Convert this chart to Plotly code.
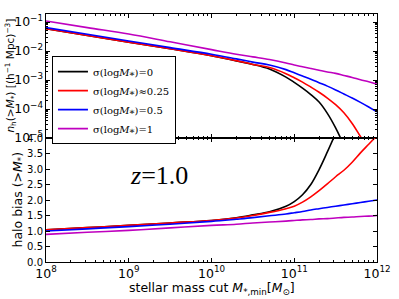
import plotly.graph_objects as go
from plotly.subplots import make_subplots

# log10 of stellar mass cut
logm = [8.0, 8.5, 9.0, 9.5, 10.0, 10.3, 10.5, 10.7, 10.9, 11.0, 11.1, 11.2, 11.3, 11.4, 11.5, 11.6, 11.7, 11.8, 11.9, 12.0]

# log10 number density n_h(>M*) for each scatter
lognh_s0 = [-1.23, -1.46, -1.69, -1.92, -2.16, -2.34, -2.46, -2.62, -2.90, -3.08, -3.28, -3.50, -3.76, -4.15, -4.65, -5.25, None, None, None, None]
lognh_s025 = [-1.23, -1.46, -1.69, -1.92, -2.16, -2.33, -2.46, -2.57, -2.78, -2.92, -3.07, -3.24, -3.42, -3.62, -3.85, -4.13, -4.50, -4.95, -5.4, None]
lognh_s05 = [-1.19, -1.42, -1.65, -1.88, -2.11, -2.27, -2.38, -2.48, -2.64, -2.75, -2.86, -2.97, -3.09, -3.21, -3.34, -3.48, -3.62, -3.77, -3.93, -4.10]
lognh_s1 = [-0.96, -1.19, -1.41, -1.68, -1.95, -2.11, -2.20, -2.29, -2.41, -2.48, -2.54, -2.60, -2.66, -2.72, -2.77, -2.84, -2.91, -2.99, -3.06, -3.14]

# halo bias for each scatter
bias_s0 = [1.04, 1.11, 1.18, 1.26, 1.34, 1.43, 1.52, 1.62, 1.80, 1.95, 2.17, 2.50, 2.98, 3.55, 4.15, None, None, None, None, None]
bias_s025 = [1.04, 1.11, 1.18, 1.26, 1.34, 1.42, 1.50, 1.60, 1.72, 1.80, 1.93, 2.10, 2.30, 2.52, 2.75, 2.96, 3.22, 3.52, 3.80, 4.08]
bias_s05 = [1.00, 1.07, 1.14, 1.22, 1.31, 1.38, 1.43, 1.49, 1.55, 1.59, 1.63, 1.68, 1.72, 1.76, 1.80, 1.84, 1.88, 1.92, 1.96, 2.00]
bias_s1 = [0.89, 0.96, 1.02, 1.10, 1.18, 1.22, 1.26, 1.29, 1.32, 1.34, 1.36, 1.37, 1.39, 1.40, 1.42, 1.44, 1.45, 1.47, 1.48, 1.50]

labels = ["σ(log<i>M</i>⁎)=0", "σ(log<i>M</i>⁎)≈0.25",
          "σ(log<i>M</i>⁎)=0.5", "σ(log<i>M</i>⁎)=1"]
colors = ["#000000", "#ff0000", "#0000ff", "#bf00bf"]

mass = [10 ** v for v in logm]
nh_series = [lognh_s0, lognh_s025, lognh_s05, lognh_s1]
b_series = [bias_s0, bias_s025, bias_s05, bias_s1]

fig = make_subplots(rows=2, cols=1, shared_xaxes=True, vertical_spacing=0)

for lab, col, nh in zip(labels, colors, nh_series):
    fig.add_trace(go.Scatter(x=mass, y=[None if v is None else 10 ** v for v in nh],
                             mode="lines", line=dict(color=col, width=1.6, shape="spline"),
                             name=lab, showlegend=True), row=1, col=1)
for lab, col, b in zip(labels, colors, b_series):
    fig.add_trace(go.Scatter(x=mass, y=b, mode="lines",
                             line=dict(color=col, width=1.6, shape="spline"),
                             name=lab, showlegend=False), row=2, col=1)

axis_common = dict(showline=True, linecolor="black", linewidth=1, mirror="allticks",
                   ticks="inside", tickcolor="black", ticklen=4, showgrid=False, zeroline=False,
                   tickfont=dict(family="DejaVu Sans", size=10, color="black"))

fig.update_xaxes(type="log", range=[8, 12], dtick=1, exponentformat="power",
                 minor=dict(ticks="inside", ticklen=2, dtick="D1", tickcolor="black"),
                 **axis_common)
fig.update_xaxes(showticklabels=False, row=1, col=1)
fig.update_yaxes(type="log", range=[-5, -0.72], dtick=1, exponentformat="power",
                 minor=dict(ticks="inside", ticklen=2, dtick="D1", tickcolor="black"),
                 row=1, col=1, **axis_common)
fig.update_yaxes(range=[0, 4], dtick=0.5, tickformat=".1f", row=2, col=1, **axis_common)

fig.add_annotation(text="<i>n</i><sub>h</sub>(><i>M</i><sub>*</sub>) [(h<sup>−1</sup> Mpc)<sup>−3</sup>]",
                   xref="paper", yref="paper", x=-0.107, y=0.75, textangle=-90,
                   xanchor="center", yanchor="middle",
                   showarrow=False, font=dict(family="DejaVu Sans", size=10.5, color="black"))
fig.add_annotation(text="halo bias (><i>M</i><sub>*</sub>)",
                   xref="paper", yref="paper", x=-0.086, y=0.25, textangle=-90,
                   xanchor="center", yanchor="middle",
                   showarrow=False, font=dict(family="DejaVu Sans", size=12.5, color="black"))
fig.add_annotation(text="stellar mass cut <i>M</i><sub>*,min</sub>[<i>M</i><sub>⊙</sub>]",
                   xref="paper", yref="paper", x=0.5, y=-0.105, xanchor="center", yanchor="middle",
                   showarrow=False, font=dict(family="DejaVu Sans", size=12.5, color="black"))
fig.add_annotation(text="<i>z</i>=1.0", xref="paper", yref="paper", x=0.34, y=0.35,
                   xanchor="center", yanchor="middle",
                   showarrow=False, font=dict(family="Liberation Serif", size=26, color="black"))

fig.update_layout(
    width=399, height=299,
    margin=dict(l=46, r=16, t=8, b=37),
    paper_bgcolor="white", plot_bgcolor="white",
    legend=dict(x=0.018, y=0.83, xanchor="left", yanchor="top",
                bgcolor="white", bordercolor="black", borderwidth=1,
                font=dict(family="DejaVu Serif", size=10, color="black"),
                tracegroupgap=0, itemwidth=30),
)

fig.write_html("out.html", post_script="document.body.style.margin='0';",
               config={"displayModeBar": False})
